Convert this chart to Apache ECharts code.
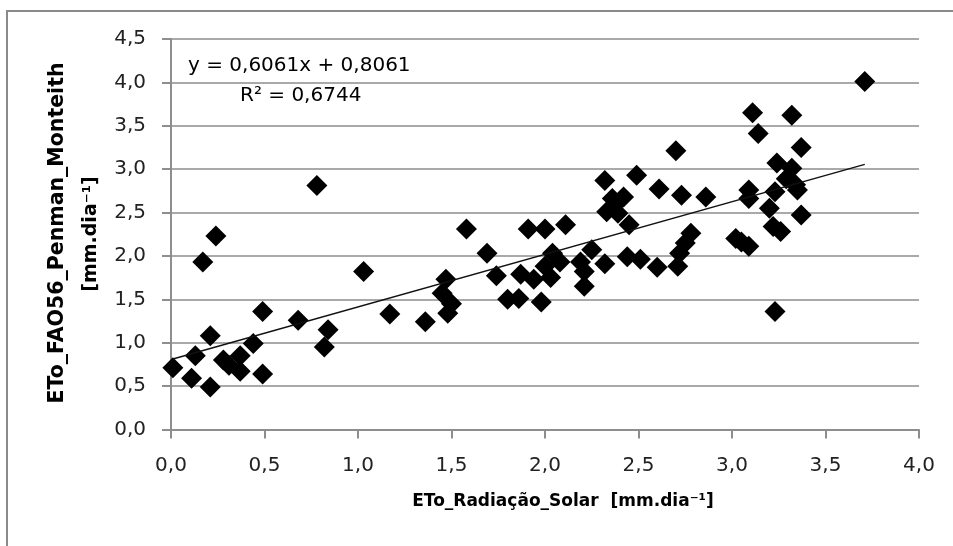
<!DOCTYPE html>
<html lang="pt">
<head>
    <meta charset="UTF-8">
    <title>ETo</title>
    <script src="https://cdn.jsdelivr.net/npm/echarts@6/dist/echarts.min.js"></script>
    <style>
        html, body { margin: 0; padding: 0; background: #fff; }
        #chart { width: 953px; height: 546px; }
    </style>
</head>
<body>
<div id="chart"></div>
<script>
// ETo_Radiação_Solar (x) vs ETo_FAO56_Penman_Monteith (y), mm.dia-1
var xValues = [
    0.01, 0.11, 0.13, 0.17, 0.21, 0.21, 0.24, 0.28, 0.31, 0.37,
    0.37, 0.44, 0.49, 0.49, 0.68, 0.78, 0.82, 0.84, 1.03, 1.17,
    1.36, 1.45, 1.47, 1.50, 1.48, 1.58, 1.69, 1.74, 1.80, 1.86,
    1.87, 1.91, 1.94, 1.98, 2.00, 2.03, 2.00, 2.04, 2.08, 2.11,
    2.19, 2.25, 2.21, 2.21, 2.32, 2.32, 2.36, 2.42, 2.33, 2.39,
    2.45, 2.44, 2.49, 2.51, 2.60, 2.61, 2.70, 2.71, 2.72, 2.73,
    2.75, 2.78, 2.86, 3.02, 3.05, 3.09, 3.09, 3.09, 3.11, 3.14,
    3.20, 3.22, 3.23, 3.24, 3.23, 3.26, 3.29, 3.32, 3.32, 3.35,
    3.37, 3.37, 3.71, 3.34, 2.37
];
var yValues = [
    0.71, 0.59, 0.85, 1.93, 1.08, 0.49, 2.23, 0.80, 0.74, 0.67,
    0.85, 0.99, 0.64, 1.36, 1.26, 2.81, 0.95, 1.15, 1.82, 1.33,
    1.24, 1.57, 1.73, 1.45, 1.34, 2.31, 2.03, 1.77, 1.50, 1.51,
    1.79, 2.31, 1.73, 1.47, 2.31, 1.75, 1.88, 2.03, 1.93, 2.36,
    1.93, 2.07, 1.82, 1.65, 1.91, 2.87, 2.66, 2.68, 2.51, 2.49,
    2.36, 1.99, 2.93, 1.96, 1.87, 2.77, 3.21, 1.88, 2.03, 2.70,
    2.15, 2.26, 2.68, 2.20, 2.16, 2.11, 2.76, 2.66, 3.65, 3.41,
    2.55, 2.34, 1.36, 3.07, 2.74, 2.28, 2.89, 3.01, 3.62, 2.76,
    3.25, 2.47, 4.01, 2.82, 2.58
];

// linha de tendência linear (Excel)
var slope = 0.6061;
var intercept = 0.8061;
var eqText = 'y = 0,6061x + 0,8061';
var r2Text = 'R² = 0,6744';

var xTitle = 'ETo_Radiação_Solar  [mm.dia⁻¹]';
var yTitle1 = 'ETo_FAO56_Penman_Monteith';
var yTitle2 = '[mm.dia⁻¹]';

var points = [];
for (var i = 0; i < xValues.length; i++) {
    points.push([xValues[i], yValues[i]]);
}
var xMin = Math.min.apply(null, xValues);
var xMax = Math.max.apply(null, xValues);
var trend = [
    [xMin, slope * xMin + intercept],
    [xMax, slope * xMax + intercept]
];

function fmt(v) {
    return v.toFixed(1).replace('.', ',');
}

var gridColor = '#a9a9a9';
var axisColor = '#8e8e8e';

var option = {
    backgroundColor: '#fff',
    animation: false,
    grid: { left: 171, right: 34, top: 38.9, bottom: 116.5 },
    xAxis: {
        type: 'value',
        min: 0, max: 4, interval: 0.5,
        axisLine: { show: true, lineStyle: { color: axisColor, width: 2 } },
        axisTick: { show: true, length: 9, lineStyle: { color: axisColor, width: 2 } },
        splitLine: { show: false },
        axisLabel: {
            margin: 26,
            color: '#222',
            fontFamily: 'DejaVu Sans',
            fontSize: 20,
            formatter: fmt
        }
    },
    yAxis: {
        type: 'value',
        min: 0, max: 4.5, interval: 0.5,
        axisLine: { show: true, lineStyle: { color: axisColor, width: 2 } },
        axisTick: { show: true, length: 9, lineStyle: { color: axisColor, width: 2 } },
        splitLine: { show: true, lineStyle: { color: gridColor, width: 2 } },
        axisLabel: {
            margin: 25,
            color: '#222',
            fontFamily: 'DejaVu Sans',
            fontSize: 20,
            formatter: fmt
        }
    },
    series: [
        {
            type: 'scatter',
            data: points,
            symbol: 'diamond',
            symbolSize: 21,
            itemStyle: { color: '#000', opacity: 1 },
            z: 3
        },
        {
            type: 'line',
            data: trend,
            symbol: 'none',
            lineStyle: { color: '#111', width: 1.5 },
            z: 4
        }
    ],
    graphic: [
        {
            type: 'rect',
            shape: { x: 7, y: 11, width: 1200, height: 1000 },
            style: { fill: 'none', stroke: '#8a8a8a', lineWidth: 2 },
            z: -1
        },
        {
            type: 'text', left: 188, top: 56,
            style: { text: eqText, fill: '#000', font: '20px "DejaVu Sans"' }
        },
        {
            type: 'text', left: 240, top: 86,
            style: { text: r2Text, fill: '#000', font: '20px "DejaVu Sans"' }
        },
        {
            type: 'text', x: 563, y: 502,
            style: {
                text: xTitle, fill: '#000', font: 'bold 17px "DejaVu Sans"',
                align: 'center', verticalAlign: 'middle'
            }
        },
        {
            type: 'text', x: 58, y: 233, rotation: Math.PI / 2,
            style: {
                text: yTitle1, fill: '#000', font: 'bold 20.5px "DejaVu Sans"',
                align: 'center', verticalAlign: 'middle'
            }
        },
        {
            type: 'text', x: 91, y: 234, rotation: Math.PI / 2,
            style: {
                text: yTitle2, fill: '#000', font: 'bold 19px "DejaVu Sans"',
                align: 'center', verticalAlign: 'middle'
            }
        }
    ]
};

var myChart = echarts.init(document.getElementById('chart'));
myChart.setOption(option);
</script>
</body>
</html>
